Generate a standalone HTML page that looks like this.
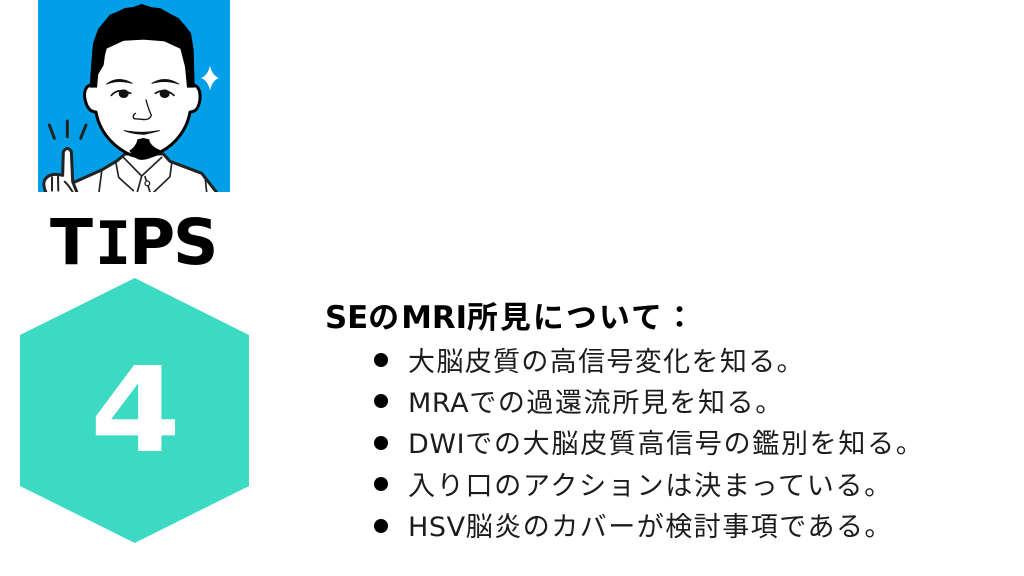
<!DOCTYPE html>
<html lang="ja"><head><meta charset="utf-8"><style>
html,body{margin:0;padding:0;background:#fff}
#p{position:relative;width:1024px;height:576px;overflow:hidden;background:#fff}
svg{position:absolute;left:0;top:0}
.t{position:absolute;white-space:nowrap;font-family:"DejaVu Sans","Noto Sans CJK JP",sans-serif;color:#1c1c1c;line-height:1}
.l{left:408px;font-size:27px;letter-spacing:1.2px;font-weight:400}
.h{left:325px;top:303px;font-size:30.8px;font-weight:700;color:#000;letter-spacing:2.2px}
.t i{font-style:normal;letter-spacing:.6px}
.h i{letter-spacing:0}
.b{position:absolute;left:374px;width:14px;height:14px;border-radius:50%;background:#000}
</style></head><body><div id="p">
<svg width="1024" height="576" viewBox="0 0 1024 576">
<rect x="38" y="0" width="192" height="192" fill="#009fe8"/>
<g transform="translate(30,0) scale(.33333)" stroke-linejoin="round" stroke-linecap="round">
<clipPath id="c"><rect x="24" y="0" width="576" height="576"/></clipPath>
<g clip-path="url(#c)">
<path d="M130 548L215 510L262 482L285 462L400 462L420 484L515 520L570 590L130 590Z" fill="#fff" stroke="#222" stroke-width="9"/>
<path d="M258 490L266 532L310 572M425 490L420 530L372 576M215 515L207 576M525 530L530 576M280 472L335 528L395 472M335 528L322 576M345 530L360 576" fill="none" stroke="#222" stroke-width="5"/>
<circle cx="352" cy="550" r="7" fill="#fff" stroke="#222" stroke-width="4"/>
<path d="M98 526L100 455Q112 436 124 455L128 545L146 590L55 590Q36 560 44 540Q58 516 98 526Z" fill="#fff" stroke="#222" stroke-width="9"/>
<path d="M66 532L66 572M84 528L85 572M104 545Q116 556 128 576" stroke="#222" stroke-width="6" fill="none"/>
<path d="M58 375L73 415M112 363L112 410M168 375L152 415" stroke="#222" stroke-width="9" fill="none"/>
<path d="M192 256C170 250 160 272 165 298C170 322 180 336 198 336C206 385 238 430 288 458C320 476 360 476 392 456C440 430 472 385 480 336C498 336 508 320 510 296C512 270 502 252 484 256L470 150L340 90L210 150Z" fill="#fff" stroke="#000" stroke-width="9"/>
<path d="M180 262L184 200L190 130L205 88L228 60L240 45L262 36L285 25L310 22L335 13L362 22L392 26L420 42L445 55L465 78L482 100L490 150L493 262L472 262L466 200L450 138L405 123L340 118L270 122L232 135L224 165L220 195L204 222L200 262Z" fill="#000" stroke="#000" stroke-width="2"/>
<path d="M298 452C315 442 322 425 322 418L340 414L358 418C358 430 370 442 394 452C375 472 345 484 325 478C315 474 305 464 298 452Z" fill="#000"/>
<path d="M230 252Q265 226 306 250Q265 238 230 252ZM366 250Q405 226 446 252Q405 238 366 250Z" fill="#111" stroke="#111" stroke-width="3"/>
<path d="M244 286Q265 262 302 280M376 280Q405 262 432 286" fill="none" stroke="#111" stroke-width="5"/>
<ellipse cx="281" cy="281" rx="15" ry="13" fill="#111"/><ellipse cx="404" cy="281" rx="15" ry="13" fill="#111"/>
<path d="M348 300Q358 335 364 345Q360 362 335 358L312 356Q306 348 316 340" fill="none" stroke="#111" stroke-width="4"/>
<path d="M283 392Q335 402 388 392Q335 406 335 402Q310 402 283 392Z" fill="#111" stroke="#111" stroke-width="3"/>
<path d="M540 196Q546 226 567 234Q546 242 540 272Q534 242 513 234Q534 226 540 196Z" fill="#fff"/>
</g></g>
<polygon points="134.7,278 249,335 249,486 134.7,543 20,486 20,335" fill="#3ddac3"/>
<text transform="translate(135.5,451) scale(1.11,1)" text-anchor="middle" font-family="DejaVu Sans" font-weight="700" font-size="118" fill="#fff">4</text>
<g font-weight="700" font-size="63" fill="#000" font-family="DejaVu Sans">
<text x="50" y="264">T</text>
<text x="95" y="264" font-family="DejaVu Sans Mono" font-size="60">I</text>
<text x="129" y="264">P</text>
<text x="173" y="264">S</text>
</g>
</svg>
<div class="t h"><i>SE</i>の<i>MRI</i>所見について：</div>
<div class="b" style="top:353px"></div><div class="t l" style="top:349px;letter-spacing:1.35px">大脳皮質の高信号変化を知る。</div>
<div class="b" style="top:394px"></div><div class="t l" style="top:390px;letter-spacing:1.6px"><i>MRA</i>での過還流所見を知る。</div>
<div class="b" style="top:436px"></div><div class="t l" style="top:431px;letter-spacing:1.7px"><i>DWI</i>での大脳皮質高信号の鑑別を知る。</div>
<div class="b" style="top:477px"></div><div class="t l" style="top:473px;letter-spacing:1.75px">入り口のアクションは決まっている。</div>
<div class="b" style="top:519px"></div><div class="t l" style="top:514px;letter-spacing:1.5px"><i>HSV</i>脳炎のカバーが検討事項である。</div>
</div></body></html>
